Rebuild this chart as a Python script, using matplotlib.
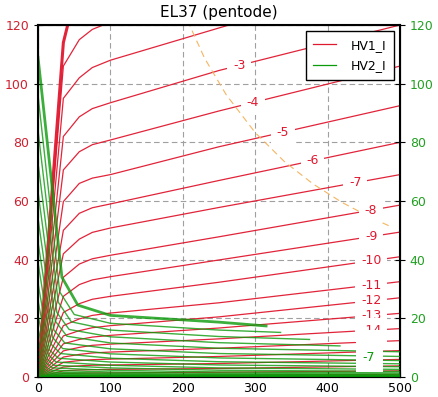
import matplotlib
matplotlib.use("Agg")
import matplotlib.pyplot as plt
import numpy as np
from matplotlib.lines import Line2D
from matplotlib.patches import Rectangle

# grid voltages (V)
grid_v = [0, -1, -2, -3, -4, -5, -6, -7, -8, -9, -10,
          -11, -12, -13, -14, -15, -16, -17, -18, -19, -20]

# anode current HV1_I (mA) sampled at anode voltages 0, 35, 57, 75, 100, 250, 500 V
ia_vs = [0, 35, 57, 75, 100, 250, 500]
ia_35 = [114, 106, 95, 82, 70.6, 59.8, 50, 42, 34, 27.5, 22,
         17.5, 14, 11.3, 8.9, 6.8, 5, 3.4, 2.1, 1.2, 0.5]
ia_57 = [136, 115, 102, 88.7, 76.8, 66, 55.8, 47, 38.5, 31.5, 25,
         19.8, 15.8, 12.8, 10.1, 7.7, 5.6, 3.8, 2.4, 1.3, 0.55]
ia_75 = [139.5, 118.5, 105.5, 91.5, 79.2, 67.8, 57.7, 49.3, 40.3, 33.1, 26.5,
         21, 16.8, 13.6, 10.8, 8.2, 5.9, 4, 2.5, 1.35, 0.58]
ia_100 = [142, 121, 108, 93.5, 80.8, 69, 59, 50.8, 41.5, 34.2, 27.5,
          21.8, 17.5, 14.2, 11.2, 8.5, 6.1, 4.1, 2.6, 1.4, 0.6]
ia_250 = [150, 130, 119, 104.5, 90.7, 78.5, 67, 57.8, 47.8, 39.9, 32.3,
          25.3, 20.5, 16.7, 13, 9.8, 7, 4.6, 2.9, 1.6, 0.7]
ia_500 = [165, 145, 137, 120, 106, 92.5, 80, 69, 58.6, 49.4, 41,
          32.5, 27, 21.7, 16.5, 12.4, 9, 6, 3.8, 2.1, 0.9]

# screen current HV2_I (mA)
ig2_0 = [109, 96, 84, 73, 63, 54, 46, 39, 32, 26, 21,
         16.5, 12.5, 9.5, 7, 5, 3.5, 2.5, 1.6, 1, 0.5]
ig2_k1v = [33, 30, 28, 26, 24, 22, 20, 18, 16, 14.5, 13,
           11.5, 10, 9, 8, 7, 6, 5, 4, 3, 2]
ig2_k1 = [34, 29, 25.5, 22, 19, 16, 13.5, 11.2, 9.2, 7.5, 6,
          4.7, 3.6, 2.7, 2, 1.5, 1.1, 0.8, 0.5, 0.3, 0.15]
ig2_k2v = [55, 50, 46, 43, 40, 37, 34, 31, 28, 25, 22,
           20, 18, 16, 14, 12, 10, 9, 8, 6, 4]
ig2_k2 = [24.5, 21.3, 18.8, 16.2, 13.9, 11.6, 9.7, 8, 6.4, 5.1, 4,
          3.1, 2.3, 1.7, 1.3, 0.9, 0.65, 0.45, 0.3, 0.18, 0.09]
ig2_100 = [21, 18.3, 16, 13.7, 11.6, 9.6, 7.9, 6.4, 5.1, 4, 3.1,
           2.3, 1.7, 1.25, 0.9, 0.65, 0.45, 0.32, 0.2, 0.12, 0.06]
ig2_250 = [18.7, 16, 13.8, 11.7, 9.8, 8, 6.5, 5.2, 4.1, 3.1, 2.3,
           1.7, 1.2, 0.85, 0.6, 0.42, 0.3, 0.2, 0.13, 0.08, 0.04]
ig2_endv = [315, 335, 375, 417, 500, 500, 500, 500, 500, 500, 500,
            500, 500, 500, 500, 500, 500, 500, 500, 500, 500]
ig2_end = [17.4, 15.2, 12.8, 10.6, 8.6, 7, 5.6, 4.5, 3.5, 2.6, 1.9,
           1.4, 1, 0.7, 0.5, 0.35, 0.25, 0.17, 0.1, 0.06, 0.03]

# 25 W anode dissipation limit
pmax_v = [200, 230, 260, 300, 340, 380, 420, 460, 486]
pmax_i = [125, 108.7, 96.2, 83.3, 73.5, 65.8, 59.5, 54.3, 51.4]

# where the curve labels sit (anode voltage)
label_grid = [-3, -4, -5, -6, -7, -8, -9, -10, -11, -12, -13, -14]
label_v = [278, 297, 338, 379, 438, 460, 460, 460, 460, 460, 460, 460]
g2_label = "-7"
g2_label_pos = (457, 6.5)

RED = "#e0182f"
GREEN = "#0a9a0a"

fig = plt.figure(figsize=(4.38, 3.97), dpi=100)
ax = fig.add_axes([0.0868, 0.0504, 0.8265, 0.8866])


def anode_curve(i):
    return [0, ia_35[i], ia_57[i], ia_75[i], ia_100[i], ia_250[i], ia_500[i]]


for i, vg in enumerate(grid_v):
    lw = 2.2 if i == 0 else 0.9
    ax.plot(ia_vs, anode_curve(i), color=RED, lw=lw, alpha=0.95, zorder=2)

ax.plot(pmax_v, pmax_i, color="#f5b560", lw=0.8, ls=(0, (6, 4)), zorder=2.5)

for vg, xv in zip(label_grid, label_v):
    yv = np.interp(xv, ia_vs, anode_curve(grid_v.index(vg)))
    ax.text(xv, yv, str(vg), color=RED, fontsize=9, ha="center", va="center",
            bbox=dict(boxstyle="square,pad=0.45", fc="white", ec="none"),
            zorder=3)

ax.set_xlim(0, 500)
ax.set_ylim(0, 120)
ax.set_xticks(range(0, 501, 100))
ax.set_yticks(range(0, 121, 20))
ax.grid(True, color="#a0a0a0", ls=(0, (5, 3)), lw=0.8)
ax.tick_params(axis="y", colors="#d02030", direction="inout", length=6,
               labelsize=9)
ax.tick_params(axis="y", color="black")
ax.tick_params(axis="x", direction="in", length=4, labelsize=9)
for s in ax.spines.values():
    s.set_linewidth(1.5)
ax.set_title("EL37 (pentode)", fontsize=11)

ax2 = ax.twinx()
ax2.set_position(ax.get_position())
for i, vg in enumerate(grid_v):
    xs = [0, ig2_k1v[i], ig2_k2v[i], 100, 250, ig2_endv[i]]
    ys = [ig2_0[i], ig2_k1[i], ig2_k2[i], ig2_100[i], ig2_250[i], ig2_end[i]]
    keep = [k for k in range(len(xs)) if xs[k] <= ig2_endv[i]]
    xs = [xs[k] for k in keep]
    ys = [ys[k] for k in keep]
    lw = 2.0 if i == 0 else 1.0
    ax2.plot(xs, ys, color=GREEN, lw=lw, alpha=0.8, zorder=2)

# white label patch covering the stacked labels at the bottom right
ax2.add_patch(Rectangle((439, 1.7), 37, 14.3, fc="white", ec="none", zorder=3))
ax2.text(g2_label_pos[0], g2_label_pos[1], g2_label, color=GREEN, fontsize=9,
         ha="center", va="center", zorder=4)

ax2.set_ylim(0, 120)
ax2.set_yticks(range(0, 121, 20))
ax2.tick_params(axis="y", labelcolor="#22a022", color="black",
                direction="inout", length=7, labelsize=9)

handles = [Line2D([], [], color=RED, lw=0.9),
           Line2D([], [], color=GREEN, lw=0.9)]
leg = ax2.legend(handles, ["HV1_I", "HV2_I"], loc="upper right", fontsize=9,
                 fancybox=False, framealpha=1, edgecolor="black",
                 borderaxespad=0.5, handlelength=1.8, handletextpad=1.2,
                 borderpad=0.6, labelspacing=0.6)
leg.get_frame().set_linewidth(1.0)

fig.savefig("out.png", dpi=100)
